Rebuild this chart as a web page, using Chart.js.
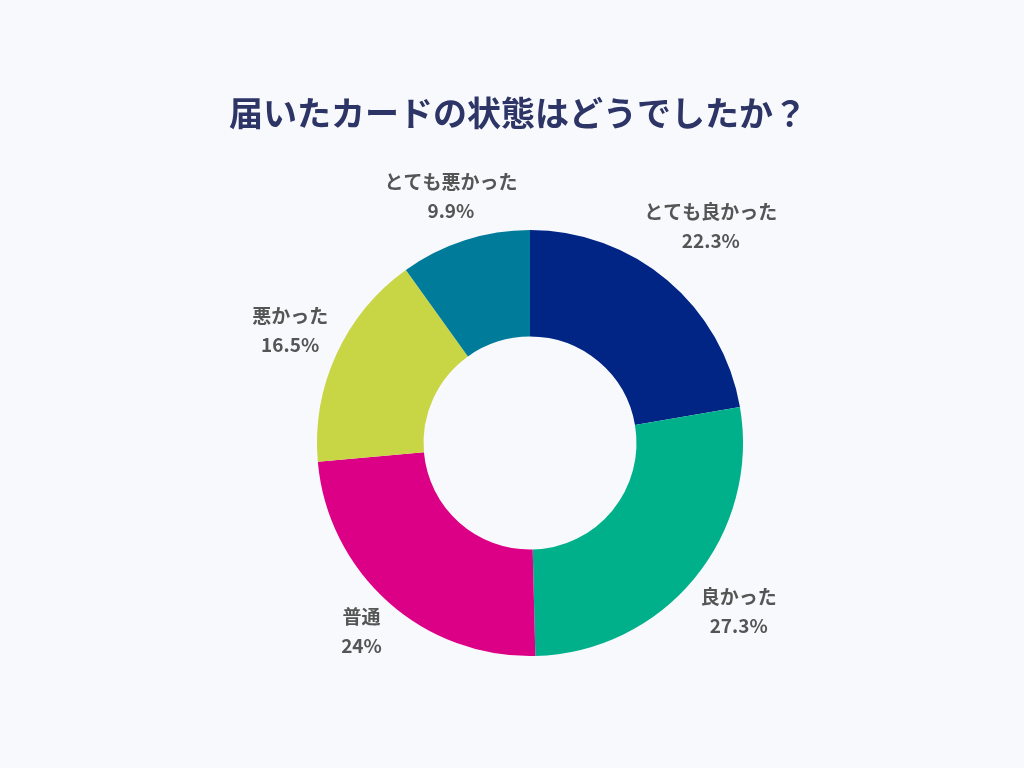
<!DOCTYPE html>
<html><head><meta charset="utf-8">
<script src="https://cdn.jsdelivr.net/npm/chart.js@4"></script>
<style>html,body{margin:0;padding:0;background:#f8f9fc;}#wrap{width:1024px;height:768px;position:relative;}</style>
</head><body><div id="wrap"><canvas id="c" width="1024" height="768"></canvas></div>
<script>
const titleText = "届いたカードの状態はどうでしたか？";
const categories = ["とても良かった", "良かった", "普通", "悪かった", "とても悪かった"];
const values = [22.3, 27.3, 24, 16.5, 9.9];
const valueLabels = ["22.3%", "27.3%", "24%", "16.5%", "9.9%"];
const colors = ["#002585", "#00b08a", "#dc0087", "#c8d544", "#007b9a"];

const FONT = "'Noto Sans CJK JP', 'Noto Sans', sans-serif";
// small label nudges (style, not data)
const nudges = [[10, -14], [4, 0], [8, -9], [1, -2], [2, 6]];

const labelPlugin = {
  id: 'outLabels',
  afterDraw(chart) {
    const ctx = chart.ctx;
    ctx.save();
    ctx.fillStyle = '#2d3566';
    ctx.font = "bold 34px " + FONT;
    ctx.textAlign = 'center';
    ctx.textBaseline = 'middle';
    ctx.fillText(titleText, 518, 113);
    const meta = chart.getDatasetMeta(0);
    ctx.fillStyle = '#555555';
    ctx.font = "bold 19px " + FONT;
    meta.data.forEach((arc, i) => {
      const p = arc.getProps(['x','y','startAngle','endAngle','outerRadius'], true);
      const mid = (p.startAngle + p.endAngle) / 2;
      const r = p.outerRadius + 52;
      const x = p.x + Math.cos(mid) * r + nudges[i][0];
      const y = p.y + Math.sin(mid) * r + nudges[i][1];
      ctx.fillText(categories[i], x, y - 14.5);
      ctx.fillText(valueLabels[i], x, y + 14.5);
    });
    ctx.restore();
  }
};

new Chart(document.getElementById('c'), {
  type: 'doughnut',
  data: {
    labels: categories,
    datasets: [{ data: values, backgroundColor: colors, borderWidth: 0 }]
  },
  options: {
    responsive: false,
    animation: false,
    cutout: '50%',
    layout: { padding: { left: 60, right: 24, top: 230, bottom: 112 } },
    plugins: { legend: { display: false }, tooltip: { enabled: false }, title: { display: false } }
  },
  plugins: [labelPlugin]
});
</script>
</body></html>
